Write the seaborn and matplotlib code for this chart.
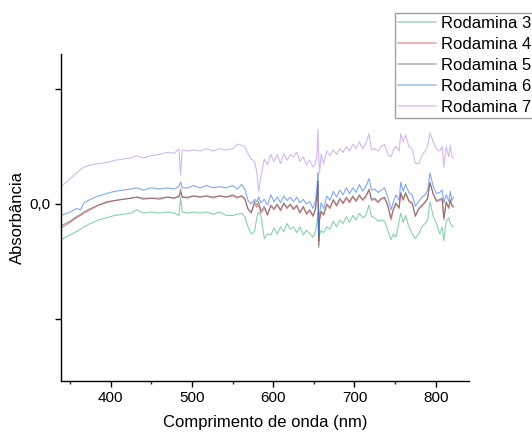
import numpy as np
import pandas as pd
import matplotlib
matplotlib.use("Agg")
import matplotlib.pyplot as plt
import seaborn as sns
from matplotlib.ticker import MultipleLocator

# wavelength grid (nm)
comprimento = [339, 350, 358, 363, 367, 375, 385, 395, 405, 415,
               425, 432, 440, 450, 460, 470, 478, 484, 486, 488,
               495, 502, 510, 518, 526, 534, 542, 550, 556, 561,
               565, 569, 573, 577, 580, 582, 585, 589, 593, 597,
               601, 605, 609, 613, 617, 621, 625, 629, 633, 637,
               641, 645, 649, 652, 654, 655, 656, 657, 659, 662,
               666, 670, 674, 678, 682, 686, 690, 694, 698, 702,
               706, 710, 714, 718, 721, 725, 729, 733, 737, 741,
               745, 748, 751, 755, 757, 760, 763, 767, 771, 775,
               779, 783, 787, 790, 793, 797, 801, 805, 808, 810,
               813, 816, 818, 820, 822]

rodamina3 = [-0.031, -0.027, -0.024, -0.022, -0.020, -0.017, -0.014, -0.012, -0.010, -0.009,
             -0.008, -0.005, -0.008, -0.007, -0.008, -0.007, -0.008, -0.010, 0.006, -0.007,
             -0.008, -0.007, -0.008, -0.007, -0.009, -0.007, -0.010, -0.010, -0.009, -0.008,
             -0.011, -0.020, -0.026, -0.024, -0.011, -0.007, -0.010, -0.030, -0.026, -0.027,
             -0.021, -0.026, -0.020, -0.024, -0.017, -0.022, -0.020, -0.025, -0.020, -0.027,
             -0.023, -0.026, -0.029, -0.024, -0.015, -0.008, -0.038, -0.027, -0.023, -0.025,
             -0.020, -0.022, -0.015, -0.020, -0.014, -0.017, -0.011, -0.016, -0.010, -0.014,
             -0.008, -0.012, -0.010, -0.001, -0.011, -0.012, -0.015, -0.014, -0.015, -0.023,
             -0.031, -0.026, -0.029, -0.015, -0.008, -0.016, -0.010, -0.020, -0.026, -0.030,
             -0.026, -0.020, -0.017, -0.014, 0.002, -0.011, -0.017, -0.026, -0.020, -0.032,
             -0.015, -0.012, -0.017, -0.019, -0.020]

rodamina4 = [-0.021, -0.016, -0.012, -0.010, -0.008, -0.005, -0.001, 0.001, 0.003, 0.004,
             0.005, 0.006, 0.004, 0.005, 0.004, 0.006, 0.005, 0.006, 0.010, 0.006,
             0.005, 0.007, 0.006, 0.007, 0.005, 0.007, 0.006, 0.007, 0.005, 0.007,
             0.004, -0.005, -0.007, 0.000, -0.003, -0.001, -0.008, -0.004, -0.010, -0.002,
             -0.005, -0.001, -0.006, 0.000, -0.004, -0.001, -0.005, -0.002, -0.008, -0.003,
             -0.009, -0.006, -0.011, -0.005, 0.006, 0.017, -0.036, -0.015, -0.007, -0.010,
             -0.001, -0.004, 0.003, -0.002, 0.004, 0.000, 0.005, 0.001, 0.006, 0.002,
             0.007, 0.003, 0.006, 0.012, 0.003, 0.004, 0.001, 0.004, 0.005, -0.002,
             -0.014, -0.005, 0.000, -0.004, 0.009, 0.003, 0.009, 0.002, 0.000, -0.011,
             -0.005, -0.002, 0.001, 0.004, 0.019, 0.008, 0.002, 0.003, 0.004, -0.014,
             0.001, -0.004, 0.003, -0.002, -0.003]

rodamina5 = [-0.019, -0.015, -0.011, -0.009, -0.007, -0.004, -0.001, 0.002, 0.003, 0.004,
             0.005, 0.006, 0.005, 0.005, 0.005, 0.006, 0.005, 0.007, 0.013, 0.006,
             0.006, 0.007, 0.006, 0.007, 0.006, 0.007, 0.006, 0.008, 0.006, 0.007,
             0.005, -0.004, -0.008, 0.002, -0.001, 0.002, -0.006, -0.002, -0.009, -0.001,
             -0.004, 0.000, -0.005, 0.001, -0.003, 0.000, -0.004, -0.001, -0.007, -0.002,
             -0.008, -0.005, -0.010, -0.004, 0.008, 0.020, -0.032, -0.013, -0.006, -0.009,
             0.000, -0.003, 0.004, -0.001, 0.005, 0.001, 0.006, 0.002, 0.007, 0.003,
             0.008, 0.004, 0.007, 0.013, 0.004, 0.005, 0.002, 0.005, 0.006, -0.001,
             -0.012, -0.004, 0.001, -0.003, 0.010, 0.004, 0.010, 0.003, 0.001, -0.010,
             -0.004, -0.001, 0.002, 0.005, 0.018, 0.009, 0.003, 0.004, 0.005, -0.012,
             0.002, -0.003, 0.004, -0.001, -0.002]

rodamina6 = [-0.010, -0.007, -0.004, -0.005, 0.001, 0.004, 0.007, 0.009, 0.011, 0.012,
             0.013, 0.014, 0.012, 0.014, 0.013, 0.014, 0.013, 0.015, 0.019, 0.014,
             0.014, 0.016, 0.014, 0.016, 0.014, 0.015, 0.014, 0.016, 0.013, 0.017,
             0.013, 0.003, 0.000, 0.004, 0.002, 0.006, 0.001, 0.004, -0.001, 0.008,
             0.002, 0.006, 0.001, 0.007, 0.003, 0.006, 0.002, 0.006, 0.001, 0.004,
             0.000, 0.002, -0.004, 0.003, 0.015, 0.027, -0.027, -0.008, 0.001, -0.004,
             0.007, 0.003, 0.011, 0.006, 0.012, 0.008, 0.014, 0.009, 0.014, 0.010,
             0.017, 0.011, 0.015, 0.022, 0.012, 0.013, 0.010, 0.012, 0.014, 0.006,
             -0.005, 0.002, 0.008, 0.003, 0.019, 0.011, 0.017, 0.010, 0.008, -0.002,
             0.002, 0.006, 0.008, 0.012, 0.027, 0.015, 0.009, 0.010, 0.012, 0.001,
             0.008, 0.002, 0.011, 0.003, 0.006]

rodamina7 = [0.015, 0.022, 0.027, 0.030, 0.032, 0.034, 0.035, 0.036, 0.038, 0.039,
             0.040, 0.042, 0.040, 0.042, 0.043, 0.045, 0.044, 0.048, 0.025, 0.047,
             0.046, 0.047, 0.046, 0.048, 0.046, 0.048, 0.047, 0.048, 0.052, 0.051,
             0.050, 0.044, 0.039, 0.037, 0.027, 0.011, 0.024, 0.039, 0.034, 0.043,
             0.037, 0.043, 0.035, 0.044, 0.038, 0.043, 0.041, 0.045, 0.037, 0.041,
             0.034, 0.038, 0.032, 0.035, 0.044, 0.065, 0.041, 0.027, 0.043, 0.035,
             0.046, 0.042, 0.047, 0.043, 0.048, 0.045, 0.050, 0.046, 0.052, 0.048,
             0.054, 0.048, 0.053, 0.061, 0.047, 0.048, 0.046, 0.050, 0.052, 0.043,
             0.041, 0.047, 0.050, 0.046, 0.061, 0.054, 0.060, 0.050, 0.048, 0.035,
             0.035, 0.042, 0.046, 0.050, 0.062, 0.054, 0.048, 0.046, 0.050, 0.032,
             0.050, 0.041, 0.051, 0.041, 0.040]

nomes = ["Rodamina 3", "Rodamina 4", "Rodamina 5", "Rodamina 6", "Rodamina 7"]
cores = ["#3cb371", "#d63a3a", "#555555", "#2f6fe8", "#b889e6"]

df = pd.DataFrame({"nm": comprimento,
                   "Rodamina 3": rodamina3, "Rodamina 4": rodamina4,
                   "Rodamina 5": rodamina5, "Rodamina 6": rodamina6,
                   "Rodamina 7": rodamina7})
df = df.melt(id_vars="nm", var_name="amostra", value_name="abs")

sns.set_style("white")
plt.rcParams["font.family"] = ["Liberation Sans", "DejaVu Sans"]
plt.rcParams["text.color"] = "black"
plt.rcParams["axes.labelcolor"] = "black"

fig = plt.figure(figsize=(5.32, 4.32), dpi=100)
ax = fig.add_axes([61 / 532, 0.118, 408 / 532, 0.757])

sns.lineplot(data=df, x="nm", y="abs", hue="amostra", hue_order=nomes,
             palette=cores, linewidth=0.8, alpha=0.6, ax=ax, legend=False)

ax.set_xlim(338.8, 841)
ax.set_ylim(-0.154, 0.1304)
ax.xaxis.set_major_locator(MultipleLocator(100))
ax.xaxis.set_minor_locator(MultipleLocator(50))
ax.set_yticks([-0.1, 0.0, 0.1])
ax.set_yticklabels(["", "0,0", ""])
ax.tick_params(axis="both", which="major", direction="out", length=4, width=1,
               labelsize=11, colors="black", bottom=True, left=True)
ax.tick_params(axis="x", which="minor", direction="out", length=2, width=1, bottom=True)
for s in ["top", "right"]:
    ax.spines[s].set_visible(False)
for s in ["left", "bottom"]:
    ax.spines[s].set_color("black")
    ax.spines[s].set_linewidth(1)

ax.set_xlabel("Comprimento de onda (nm)", fontsize=12, labelpad=7)
ax.set_ylabel("Absorbância", fontsize=12, labelpad=3)

handles = [plt.Line2D([], [], color=c, lw=1.2, alpha=0.45) for c in cores]
leg = fig.legend(handles, nomes, loc="upper left", bbox_to_anchor=(395 / 532, 1 - 12.5 / 432),
                 frameon=True, fancybox=False, fontsize=12, handlelength=2.28,
                 handletextpad=0.28, labelspacing=0.36, borderpad=0.2, borderaxespad=0)
leg.get_frame().set_edgecolor("#888888")
leg.get_frame().set_linewidth(1)

fig.savefig("out.png", dpi=100)
